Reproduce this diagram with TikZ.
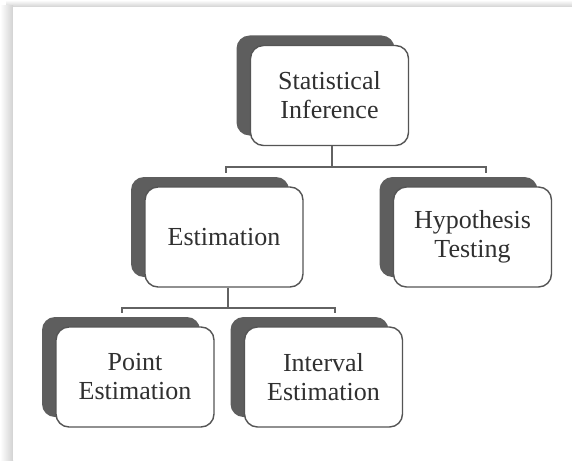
\documentclass[tikz,border=0pt]{standalone}
\usepackage{fontspec}
\setmainfont{Liberation Serif}
\usetikzlibrary{shadows}

\definecolor{boxedge}{HTML}{555555}
\definecolor{boxshade}{HTML}{5E5E5E}
\definecolor{linkgray}{HTML}{626262}
\definecolor{inkgray}{HTML}{303030}
\definecolor{pageshade}{HTML}{D2D2D2}

\tikzset{
  treebox/.style={
    draw=boxedge, line width=1.4pt, fill=white,
    rounded corners=13pt,
    minimum width=158pt, minimum height=100pt,
    align=center, text=inkgray, inner sep=0pt,
    font=\fontsize{26}{29}\selectfont,
    general shadow={fill=boxshade, draw=none, shadow xshift=-14pt, shadow yshift=10pt}
  },
  link/.style={draw=linkgray, line width=1.8pt}
}

\begin{document}
\begin{tikzpicture}[x=1pt, y=1pt]
  \useasboundingbox (0,0) rectangle (572,-460);
  \fill[white] (0,0) rectangle (572,-460);

  % soft page edge along the top and left
  \shade[top color=white, bottom color=pageshade] (6,0) rectangle (572,-7);
  \shade[left color=white, right color=pageshade] (0,-6) rectangle (13,-460);
  \fill[white] (13,-7) rectangle (572,-460);

  % hierarchy boxes
  \node[treebox] (infer) at (329.5,-95.5) {Statistical\\Inference};
  \node[treebox] (estim) at (224,-237)    {Estimation};
  \node[treebox] (hypo)  at (472.5,-237)  {Hypothesis\\Testing};
  \node[treebox] (point) at (135,-377)    {Point\\Estimation};
  \node[treebox] (inter) at (323.5,-377)  {Interval\\Estimation};

  % connectors
  \draw[link] ([xshift=2.5pt]infer.south) -- ++(0,-21) -| ([xshift=2pt,yshift=13pt]estim.north);
  \draw[link] ([xshift=2.5pt]infer.south) -- ++(0,-21) -| ([xshift=13.5pt,yshift=13pt]hypo.north);
  \draw[link] ([xshift=4pt]estim.south) -- ++(0,-20) -| ([xshift=-13pt,yshift=13pt]point.north);
  \draw[link] ([xshift=4pt]estim.south) -- ++(0,-20) -| ([xshift=11.5pt,yshift=13pt]inter.north);
\end{tikzpicture}
\end{document}
